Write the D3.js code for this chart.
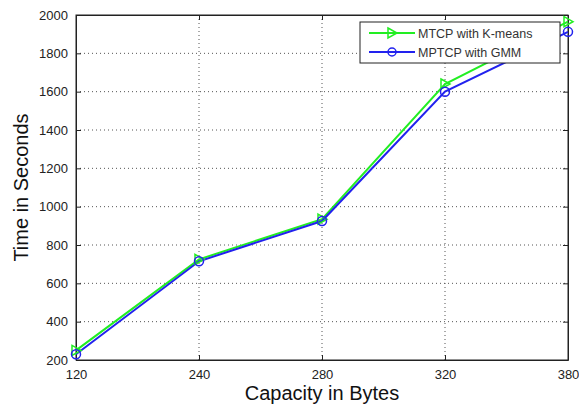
<!DOCTYPE html>
<meta charset="utf-8">
<script src="https://d3js.org/d3.v7.min.js"></script>
<style>
  body { margin: 0; background: #fff; }
  text { font-family: "Liberation Sans", Arial, sans-serif; }
</style>
<body>
<div id="chart"></div>
<script>
var capacities = ["120", "240", "280", "320", "380"];
var kmeans = [250, 725, 935, 1640, 1965];
var gmm = [230, 715, 925, 1600, 1912];
var yTicks = [200, 400, 600, 800, 1000, 1200, 1400, 1600, 1800, 2000];
var seriesNames = ["MTCP with K-means", "MPTCP with GMM"];

var margin = {top: 15, right: 11, bottom: 50, left: 76},
    W = 579, H = 410,
    width = W - margin.left - margin.right,
    height = H - margin.top - margin.bottom;

var svg = d3.select("#chart").append("svg")
    .attr("width", W).attr("height", H);
var g = svg.append("g")
    .attr("transform", "translate(" + margin.left + "," + margin.top + ")");

var x = d3.scalePoint().domain(capacities).range([0, width]);
var y = d3.scaleLinear().domain([200, 2000]).range([height, 0]);

// grid
g.append("g").selectAll("line").data(capacities.slice(1, -1)).enter().append("line")
  .attr("x1", d => x(d)).attr("x2", d => x(d)).attr("y1", 0).attr("y2", height)
  .attr("stroke", "#555").attr("stroke-width", 1).attr("stroke-dasharray", "1,3");
g.append("g").selectAll("line").data(yTicks.slice(1, -1)).enter().append("line")
  .attr("x1", 0).attr("x2", width).attr("y1", d => y(d)).attr("y2", d => y(d))
  .attr("stroke", "#555").attr("stroke-width", 1).attr("stroke-dasharray", "1,3");

// axes
g.append("g").attr("transform", "translate(0," + height + ")")
  .call(d3.axisBottom(x).tickSizeInner(-5).tickSizeOuter(0).tickPadding(10));
g.append("g")
  .call(d3.axisLeft(y).tickValues(yTicks).tickFormat(d3.format("d"))
    .tickSizeInner(-5).tickSizeOuter(0).tickPadding(8));
g.append("g")
  .call(d3.axisTop(x).tickSizeInner(-5).tickSizeOuter(0).tickFormat(""));
g.append("g").attr("transform", "translate(" + width + ",0)")
  .call(d3.axisRight(y).tickValues(yTicks).tickSizeInner(-5).tickSizeOuter(0).tickFormat(""));
g.selectAll(".domain").attr("stroke", "#222");
g.selectAll(".tick line").attr("stroke", "#222");
g.selectAll(".tick text").attr("font-size", 13).attr("fill", "#222")
  .attr("font-family", "Liberation Sans, Arial, sans-serif");
g.append("rect").attr("width", width).attr("height", height)
  .attr("fill", "none").attr("stroke", "#222");

// lines
var line = d3.line().x((d, i) => x(capacities[i])).y(d => y(d));
g.append("path").datum(kmeans).attr("d", line)
  .attr("fill", "none").attr("stroke", "#22ee22").attr("stroke-width", 2);
g.append("path").datum(gmm).attr("d", line)
  .attr("fill", "none").attr("stroke", "#2222ee").attr("stroke-width", 2);

var tri = "M-4,-5L5,0L-4,5Z";
g.append("g").selectAll("path").data(kmeans).enter().append("path")
  .attr("d", tri)
  .attr("transform", (d, i) => "translate(" + x(capacities[i]) + "," + y(d) + ")")
  .attr("fill", "none").attr("stroke", "#22ee22").attr("stroke-width", 1.5);
g.append("g").selectAll("circle").data(gmm).enter().append("circle")
  .attr("cx", (d, i) => x(capacities[i])).attr("cy", d => y(d)).attr("r", 4.5)
  .attr("fill", "none").attr("stroke", "#2222ee").attr("stroke-width", 1.5);

// legend
var lg = svg.append("g").attr("transform", "translate(360,22)");
lg.append("rect").attr("width", 200).attr("height", 41)
  .attr("fill", "#fff").attr("stroke", "#222").attr("stroke-width", 1);
var colors = ["#22ee22", "#2222ee"];
seriesNames.forEach(function(name, i) {
  var yy = 11 + i * 19;
  lg.append("line").attr("x1", 9).attr("x2", 55).attr("y1", yy).attr("y2", yy)
    .attr("stroke", colors[i]).attr("stroke-width", 2);
  if (i === 0) {
    lg.append("path").attr("d", tri).attr("transform", "translate(32," + yy + ")")
      .attr("fill", "none").attr("stroke", colors[i]).attr("stroke-width", 1.5);
  } else {
    lg.append("circle").attr("cx", 32).attr("cy", yy).attr("r", 4)
      .attr("fill", "none").attr("stroke", colors[i]).attr("stroke-width", 1.5);
  }
  lg.append("text").attr("x", 58).attr("y", yy + 4.5).attr("font-size", 12.5)
    .attr("fill", "#333").text(name);
});

// axis titles
svg.append("text").attr("x", margin.left + width / 2).attr("y", 400)
  .attr("text-anchor", "middle").attr("font-size", 20).attr("fill", "#111")
  .text("Capacity in Bytes");
svg.append("text").attr("transform", "translate(28," + (margin.top + height / 2) + ") rotate(-90)")
  .attr("text-anchor", "middle").attr("font-size", 20).attr("fill", "#111")
  .text("Time in Seconds");
</script>
</body>
